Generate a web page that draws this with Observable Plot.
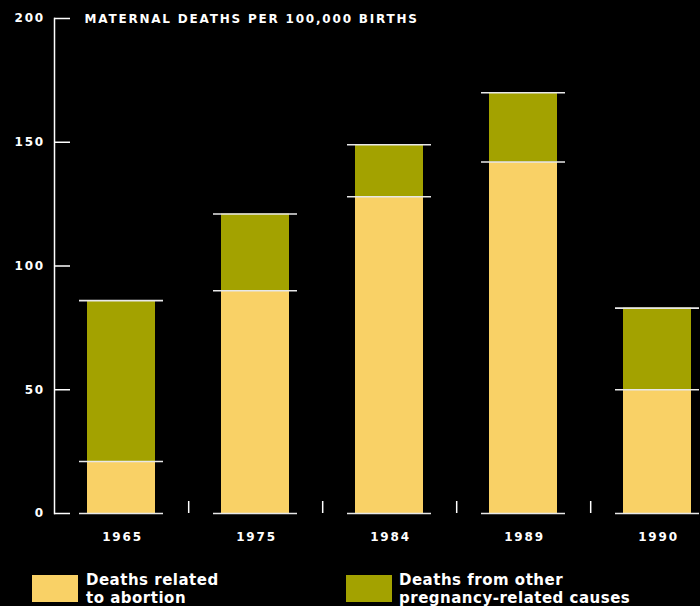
<!DOCTYPE html>
<html>
<head>
<meta charset="utf-8">
<script src="https://cdn.jsdelivr.net/npm/d3@7"></script>
<script src="https://cdn.jsdelivr.net/npm/@observablehq/plot@0.6"></script>
<style>
html, body { margin: 0; padding: 0; background: #000; }
#wrap { position: relative; width: 700px; height: 606px; overflow: hidden; background: #000;
  font-family: "DejaVu Sans", sans-serif; font-weight: bold; color: #fff; }
#chart svg { display: block; }
#chart svg text { font-family: "DejaVu Sans", sans-serif; font-weight: 700; }
.sw { position: absolute; top: 575px; width: 46px; height: 27px; }
.lt { position: absolute; top: 571px; font-size: 15px; line-height: 18px; letter-spacing: 0.5px; white-space: nowrap; }
</style>
</head>
<body>
<div id="wrap"><div id="chart"></div></div>
<script>
// ---- data ----
const years = ["1965", "1975", "1984", "1989", "1990"];
const abortionDeaths = [21, 90, 128, 142, 50];
const otherDeaths = [65, 31, 21, 28, 33];
const causes = ["Deaths related to abortion", "Deaths from other pregnancy-related causes"];
const causeColors = ["#F9D166", "#A3A200"];
const legendLines = [["Deaths related", "to abortion"], ["Deaths from other", "pregnancy-related causes"]];
const yTicks = [0, 50, 100, 150, 200];
const title = "MATERNAL DEATHS PER 100,000 BIRTHS";

// ---- tidy table ----
const rows = [];
years.forEach((year, i) => {
  rows.push({year, cause: causes[0], value: abortionDeaths[i]});
  rows.push({year, cause: causes[1], value: otherDeaths[i]});
});
const baseline = years.map(year => ({year, value: 0}));
const separators = years.slice(0, -1);

const W = 700, H = 560, mL = 54, mT = 18, mB = 47;
const xRange = [87, 692.5], padIn = 0.494;
const step = (xRange[1] - xRange[0]) / (years.length - padIn);
const lineColor = "#e8e8e8";

const chart = Plot.plot({
  width: W, height: H,
  marginLeft: mL, marginRight: 0, marginTop: mT, marginBottom: mB,
  style: {background: "#000", color: "#fff", fontFamily: "'DejaVu Sans', sans-serif", fontWeight: "bold", fontSize: "12px", overflow: "visible"},
  x: {type: "band", domain: years, range: xRange, paddingInner: padIn, paddingOuter: 0, align: 0},
  y: {domain: [0, 200], range: [H - mB, mT]},
  color: {domain: causes, range: causeColors},
  marks: [
    Plot.barY(rows, {x: "year", y: "value", fill: "cause"}),
    Plot.tickY(rows, Plot.stackY2({x: "year", y: "value", z: "cause", stroke: lineColor, strokeWidth: 1.6, insetLeft: -8, insetRight: -8})),
    Plot.tickY(baseline, {x: "year", y: "value", stroke: lineColor, strokeWidth: 1.6, insetLeft: -8, insetRight: -8}),
    Plot.ruleX(separators, {x: d => d, dx: step / 2, insetTop: (H - mB - mT) - 12, stroke: "#fff", strokeWidth: 1.5}),
    Plot.frame({anchor: "left", stroke: "#fff", strokeWidth: 1.5}),
    Plot.ruleY(yTicks, {y: d => d, insetRight: W - mL - 16, stroke: "#fff", strokeWidth: 1.5}),
    Plot.axisY({ticks: yTicks, tickSize: 0, tickPadding: 9.5, tickFormat: d => String(d), label: null, fontSize: 12, fill: "#fff"}),
    Plot.axisX({tickSize: 0, tickPadding: 19, label: null, fontSize: 12, fill: "#fff", dx: 1}),
    Plot.text([{y: 200, t: title}], {y: "y", text: "t", frameAnchor: "left", textAnchor: "start", dx: 30, dy: 1, fontSize: 12, fill: "#fff"})
  ]
});
document.getElementById("chart").appendChild(chart);

// letter spacing for the wide, tracked lettering
d3.select(chart).selectAll("text").each(function () {
  const s = this.textContent;
  if (s === title) this.style.letterSpacing = "1.8px";
  else if (/^\d+$/.test(s)) this.style.letterSpacing = "1.8px";
});

// ---- legend (HTML, below the SVG) ----
const wrap = document.getElementById("wrap");
const swLeft = [32, 346], txtLeft = [86, 399];
causes.forEach((c, i) => {
  const sw = document.createElement("div");
  sw.className = "sw";
  sw.style.left = swLeft[i] + "px";
  sw.style.background = causeColors[i];
  wrap.appendChild(sw);
  const t = document.createElement("div");
  t.className = "lt";
  t.style.left = txtLeft[i] + "px";
  t.innerHTML = legendLines[i].join("<br>");
  wrap.appendChild(t);
});
</script>
</body>
</html>
